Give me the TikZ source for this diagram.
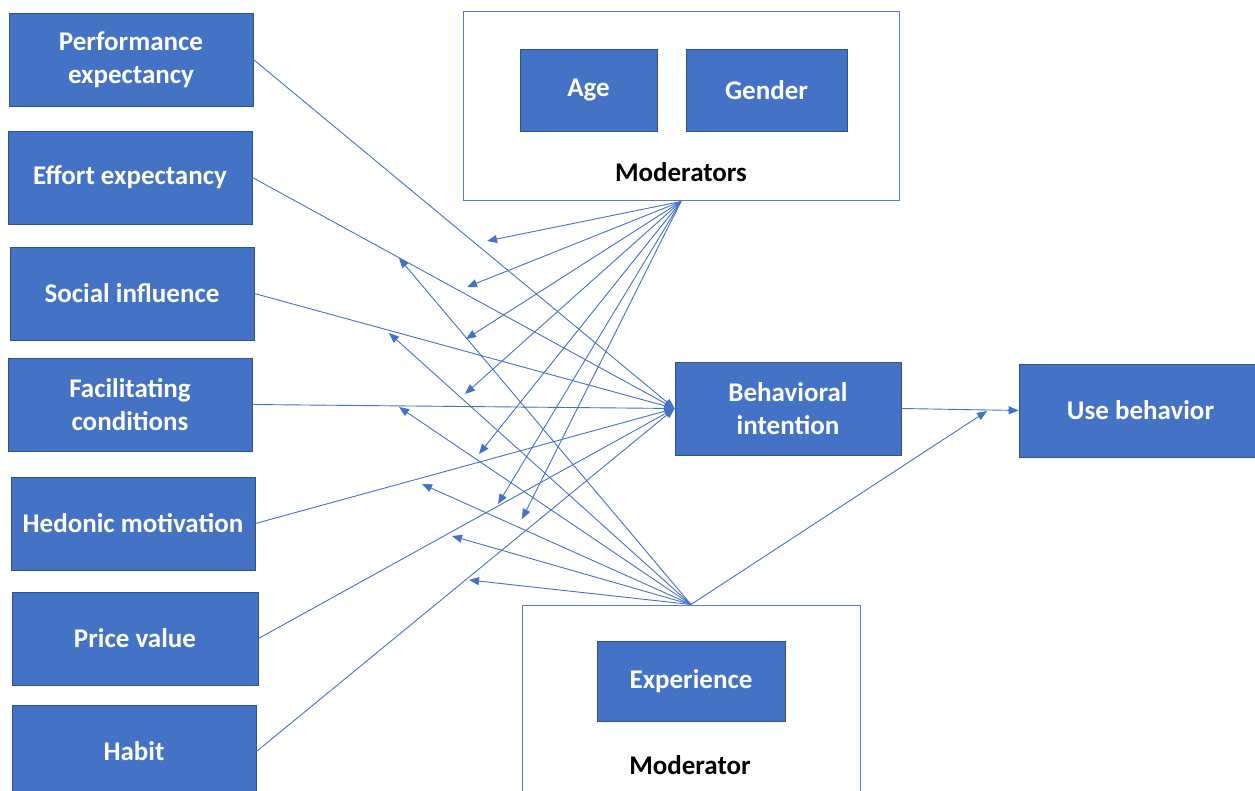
\documentclass[tikz,border=0pt]{standalone}
\usepackage{fontspec}
\setmainfont{Carlito}
\usetikzlibrary{arrows.meta}
\definecolor{boxblue}{HTML}{4472C4}
\definecolor{boxedge}{HTML}{2F528F}
\definecolor{linkblue}{HTML}{4472C4}
\definecolor{frameblue}{HTML}{5B7DC0}
\begin{document}
\begin{tikzpicture}[x=1pt,y=-1pt,
  bluebox/.style={draw=boxedge, line width=0.8pt, fill=boxblue, text=white,
    font=\fontsize{27}{33}\selectfont\bfseries, align=center, inner sep=0pt},
  framebox/.style={draw=frameblue, line width=1pt, fill=white, inner sep=0pt},
  caption/.style={font=\fontsize{27}{33}\selectfont\bfseries, text=black, inner sep=0pt},
  link/.style={draw=linkblue, line width=0.9pt, -{Triangle[length=10pt,width=8pt]}}
]
\useasboundingbox (0,0) rectangle (1255,791);
\fill[white] (0,0) rectangle (1255,791);

% outer moderator frames
\node[framebox, minimum width=436pt, minimum height=189pt] (mods) at (681,106.5) {};
\node[framebox, minimum width=338pt, minimum height=200pt] (expmod) at (691,705) {};

% left constructs
\node[bluebox, minimum width=244pt, minimum height=93pt] (perf) at (131,59.5) {Performance\\expectancy};
\node[bluebox, minimum width=244pt, minimum height=93pt] (eff) at (130,177.5) {Effort expectancy};
\node[bluebox, minimum width=244pt, minimum height=93pt] (soc) at (132,293.5) {Social influence};
\node[bluebox, minimum width=244pt, minimum height=93pt] (fac) at (130,404.5) {Facilitating\\conditions};
\node[bluebox, minimum width=244pt, minimum height=93pt] (hed) at (133,523.5) {Hedonic motivation};
\node[bluebox, minimum width=246pt, minimum height=93pt] (price) at (135,638.5) {Price value};
\node[bluebox, minimum width=244pt, minimum height=93pt] (habit) at (134,751.5) {Habit};

% moderators
\node[bluebox, minimum width=137pt, minimum height=82pt] (age) at (588.5,90) {Age};
\node[bluebox, minimum width=161pt, minimum height=82pt] (gender) at (766.5,90) {Gender};
\node[caption] (modslabel) at (681,172) {Moderators};
\node[bluebox, minimum width=188pt, minimum height=80pt] (exp) at (691,681) {Experience};
\node[caption] (modlabel) at (690,765) {Moderator};

% outcomes
\node[bluebox, minimum width=226pt, minimum height=93pt] (bi) at (788,408.5) {Behavioral\\intention};
\node[bluebox, minimum width=243pt, minimum height=93pt] (ub) at (1140.5,410.5) {Use behavior};

% main paths
\foreach \s in {perf,eff,soc,fac,hed,price,habit}
  \draw[link] (\s.east) -- (bi.west);
\draw[link] (bi.east) -- (ub.west);

% moderation arrows from Moderators box
\coordinate (m1) at (487,241);
\coordinate (m2) at (467,287);
\coordinate (m3) at (466,339);
\coordinate (m4) at (465,394);
\coordinate (m5) at (479,454);
\coordinate (m6) at (498,504);
\coordinate (m7) at (522,519);
\foreach \t in {m1,m2,m3,m4,m5,m6,m7}
  \draw[link] (mods.south) -- (\t);

% moderation arrows from Moderator (experience) box
\coordinate (e1) at (399,258);
\coordinate (e2) at (389,333);
\coordinate (e3) at (399,407);
\coordinate (e4) at (422,484);
\coordinate (e5) at (452,536);
\coordinate (e6) at (469,580);
\coordinate (e7) at (987,411);
\foreach \t in {e1,e2,e3,e4,e5,e6,e7}
  \draw[link] (expmod.north) -- (\t);
\end{tikzpicture}
\end{document}
